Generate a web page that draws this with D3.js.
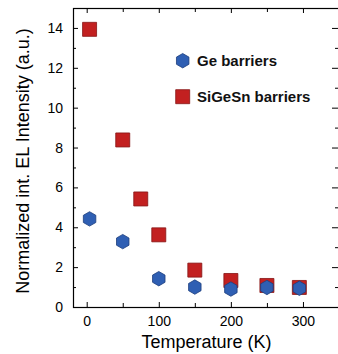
<!DOCTYPE html>
<html>
<head>
<meta charset="utf-8">
<script src="https://cdn.jsdelivr.net/npm/d3@7"></script>
<style>
  html, body { margin: 0; padding: 0; background: #fff; }
  svg { display: block; font-family: "Liberation Sans", Arial, sans-serif; }
</style>
</head>
<body>
<svg id="chart" width="338" height="354"></svg>
<script>
// ---- data ----
const geTemps = [4, 50, 100, 150, 200, 250, 295];
const geValues = [4.42, 3.28, 1.42, 1.0, 0.9, 0.98, 0.94];
const sigesnTemps = [4, 50, 75, 100, 150, 200, 250, 295];
const sigesnValues = [13.93, 8.38, 5.42, 3.62, 1.85, 1.33, 1.08, 0.98];
const seriesNames = ["Ge barriers", "SiGeSn barriers"];
const xTickLabels = [0, 100, 200, 300];
const yTickLabels = [0, 2, 4, 6, 8, 10, 12, 14];
const xTitle = "Temperature (K)";
const yTitle = "Normalized int. EL Intensity (a.u.)";

// ---- layout ----
const W = 338, H = 354;
const m = { left: 73, right: 339, top: 8, bottom: 307 };
const blueFill = "#2f5fb3", blueStroke = "#1d3d7c";
const redFill = "#c22020", redStroke = "#851414";

const svg = d3.select("#chart");
const x = d3.scaleLinear().domain([-19, 350]).range([m.left, m.right]);
const y = d3.scaleLinear().domain([0, 15]).range([m.bottom, m.top]);

// hexagon symbol (pointy top)
const hexagon = {
  draw(ctx, size) {
    const r = Math.sqrt(size / (1.5 * Math.sqrt(3)));
    for (let i = 0; i < 6; i++) {
      const a = Math.PI / 2 + i * Math.PI / 3;
      const px = r * Math.cos(a), py = -r * Math.sin(a);
      if (i === 0) ctx.moveTo(px, py); else ctx.lineTo(px, py);
    }
    ctx.closePath();
  }
};
const hexR = 7.2;
const hexSize = 1.5 * Math.sqrt(3) * hexR * hexR;
const hexPath = d3.symbol().type(hexagon).size(hexSize)();
const sq = 14;
const sqPath = d3.symbol().type(d3.symbolSquare).size(sq * sq)();

// ---- axes ----
const xMajor = xTickLabels;
const xMinor = [50, 150, 250];
const yMajor = yTickLabels;
const yMinor = [1, 3, 5, 7, 9, 11, 13];

const axisG = svg.append("g");
function styleAxis(g) {
  g.select(".domain").remove();
  g.selectAll("line").attr("stroke", "#000").attr("stroke-width", 1);
  g.selectAll("text").attr("font-size", 14).attr("fill", "#000")
    .attr("font-family", "'Liberation Sans', Arial, sans-serif");
}
// bottom
axisG.append("g").attr("transform", `translate(0,${m.bottom})`)
  .call(d3.axisBottom(x).tickValues(xMajor).tickSize(-5).tickPadding(9).tickFormat(d3.format("d")))
  .call(styleAxis);
axisG.append("g").attr("transform", `translate(0,${m.bottom})`)
  .call(d3.axisBottom(x).tickValues(xMinor).tickSize(-4).tickFormat(""))
  .call(styleAxis);
// top
axisG.append("g").attr("transform", `translate(0,${m.top})`)
  .call(d3.axisTop(x).tickValues(xMajor).tickSize(-5).tickFormat(""))
  .call(styleAxis);
axisG.append("g").attr("transform", `translate(0,${m.top})`)
  .call(d3.axisTop(x).tickValues(xMinor).tickSize(-4).tickFormat(""))
  .call(styleAxis);
// left
axisG.append("g").attr("transform", `translate(${m.left},0)`)
  .call(d3.axisLeft(y).tickValues(yMajor).tickSize(-5).tickPadding(10).tickFormat(d3.format("d")))
  .call(styleAxis);
axisG.append("g").attr("transform", `translate(${m.left},0)`)
  .call(d3.axisLeft(y).tickValues(yMinor).tickSize(-3).tickFormat(""))
  .call(styleAxis);
// right
axisG.append("g").attr("transform", `translate(${m.right},0)`)
  .call(d3.axisRight(y).tickValues(yMajor).tickSize(-7).tickFormat(""))
  .call(styleAxis);
axisG.append("g").attr("transform", `translate(${m.right},0)`)
  .call(d3.axisRight(y).tickValues(yMinor).tickSize(-4).tickFormat(""))
  .call(styleAxis);

// frame
svg.append("rect")
  .attr("x", m.left + 0.5).attr("y", m.top + 0.5)
  .attr("width", m.right - m.left).attr("height", m.bottom - m.top)
  .attr("fill", "none").attr("stroke", "#000").attr("stroke-width", 1.2);

// ---- data marks ----
const redData = sigesnTemps.map((t, i) => ({ t, v: sigesnValues[i] }));
const blueData = geTemps.map((t, i) => ({ t, v: geValues[i] }));

svg.append("g").selectAll("path").data(redData).join("path")
  .attr("d", sqPath)
  .attr("transform", d => `translate(${x(d.t)},${y(d.v)})`)
  .attr("fill", redFill).attr("stroke", redStroke).attr("stroke-width", 0.8);

svg.append("g").selectAll("path").data(blueData).join("path")
  .attr("d", hexPath)
  .attr("transform", d => `translate(${x(d.t)},${y(d.v)})`)
  .attr("fill", blueFill).attr("stroke", blueStroke).attr("stroke-width", 0.8);

// ---- legend ----
const leg = svg.append("g");
const legItems = [
  { name: seriesNames[0], path: hexPath, fill: blueFill, stroke: blueStroke, cy: 60.7 },
  { name: seriesNames[1], path: sqPath, fill: redFill, stroke: redStroke, cy: 96.7 }
];
legItems.forEach(it => {
  leg.append("path").attr("d", it.path)
    .attr("transform", `translate(182.7,${it.cy})`)
    .attr("fill", it.fill).attr("stroke", it.stroke).attr("stroke-width", 0.8);
  leg.append("text").attr("x", 197).attr("y", it.cy + 5.5)
    .attr("font-size", 15).attr("font-weight", "bold").attr("fill", "#111")
    .text(it.name);
});

// ---- titles ----
svg.append("text")
  .attr("x", (m.left + m.right) / 2 + 0.5).attr("y", 348)
  .attr("text-anchor", "middle").attr("font-size", 18).attr("fill", "#000")
  .text(xTitle);
svg.append("text")
  .attr("transform", "translate(29,161) rotate(-90)")
  .attr("text-anchor", "middle").attr("font-size", 18).attr("fill", "#000")
  .text(yTitle);
</script>
</body>
</html>
